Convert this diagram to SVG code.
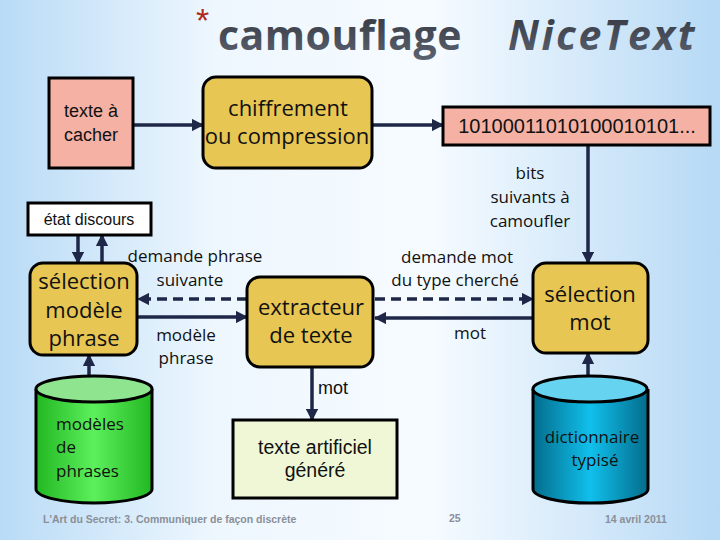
<svg xmlns="http://www.w3.org/2000/svg" width="720" height="540" viewBox="0 0 720 540">
<defs>
<linearGradient id="bg" x1="0" y1="0" x2="1" y2="0">
<stop offset="0" stop-color="#b9dbf6"/>
<stop offset="0.3" stop-color="#eef7fe"/>
<stop offset="0.6" stop-color="#f6fbff"/>
<stop offset="1" stop-color="#b6d9f5"/>
</linearGradient>
<linearGradient id="title" x1="0" y1="0" x2="0" y2="1">
<stop offset="0" stop-color="#2f333b"/>
<stop offset="1" stop-color="#5d6472"/>
</linearGradient>
<linearGradient id="green" x1="0" y1="0" x2="1" y2="0">
<stop offset="0" stop-color="#22b822"/>
<stop offset="0.5" stop-color="#5cf05c"/>
<stop offset="1" stop-color="#22b822"/>
</linearGradient>
<linearGradient id="blue" x1="0" y1="0" x2="1" y2="0">
<stop offset="0" stop-color="#046c8c"/>
<stop offset="0.5" stop-color="#10c0ec"/>
<stop offset="1" stop-color="#046c8c"/>
</linearGradient>
<marker id="ah" viewBox="0 0 10 10" refX="9" refY="5" markerWidth="3.5" markerHeight="3.5" orient="auto" markerUnits="strokeWidth">
<path d="M0,0 L10,5 L0,10 z" fill="#1e2747"/>
</marker>
<style>
.ln{stroke:#1e2747;stroke-width:3.5;fill:none;marker-end:url(#ah)}
.ds{stroke-dasharray:10,6}
.bx{stroke:#000;stroke-width:3}
.gold{fill:#e7c653}
.pink{fill:#f4b1a4}
.t{font-family:"Open Sans","DejaVu Sans",sans-serif;fill:#111}
.a{font-family:"Liberation Sans",Arial,sans-serif;fill:#111}
.big{font-size:22px}
.med{font-size:17px}
.foot{font-family:"Liberation Sans",Arial,sans-serif;font-size:10.5px;fill:#8a8f98;font-weight:bold}
</style>
</defs>
<rect width="720" height="540" fill="url(#bg)"/>
<g id="title">
<text x="196" y="32" font-family="Liberation Sans,sans-serif" font-size="34" fill="#b0281c">*</text>
<text x="218" y="50" font-family="Open Sans,sans-serif" font-weight="bold" font-size="41" fill="url(#title)" letter-spacing="0.5">camouflage</text>
<text x="508" y="50" font-family="Open Sans,sans-serif" font-weight="bold" font-style="italic" font-size="41" fill="url(#title)" letter-spacing="2.5">NiceText</text>
</g>
<g id="connectors">
<line class="ln" x1="133" y1="125" x2="203" y2="125"/>
<line class="ln" x1="372" y1="125" x2="443" y2="125"/>
<line class="ln" x1="588" y1="145" x2="588" y2="263"/>
<line class="ln" x1="78" y1="235" x2="78" y2="263"/>
<line class="ln" x1="102" y1="263" x2="102" y2="235"/>
<line class="ln ds" x1="247" y1="299" x2="138" y2="299"/>
<line class="ln" x1="127" y1="317" x2="247" y2="317"/>
<line class="ln ds" x1="375" y1="299" x2="533" y2="299"/>
<line class="ln" x1="533" y1="318" x2="375" y2="318"/>
<line class="ln" x1="89" y1="390" x2="89" y2="355"/>
<line class="ln" x1="588" y1="390" x2="588" y2="353"/>
<line class="ln" x1="312" y1="367" x2="312" y2="420"/>
</g>
<g id="labels">
<text class="t" font-size="17" text-anchor="middle" x="530" y="179">bits</text>
<text class="t" font-size="17" text-anchor="middle" x="530" y="203">suivants à</text>
<text class="t" font-size="17" text-anchor="middle" x="530" y="227">camoufler</text>
<text class="t" font-size="17" text-anchor="middle" x="195" y="262">demande phrase</text>
<text class="t" font-size="17" text-anchor="middle" x="190" y="286">suivante</text>
<text class="t" font-size="17" text-anchor="middle" x="186" y="341">modèle</text>
<text class="t" font-size="17" text-anchor="middle" x="186" y="364">phrase</text>
<text class="t" font-size="17" text-anchor="middle" x="457" y="263">demande mot</text>
<text class="t" font-size="17" text-anchor="middle" x="455" y="286">du type cherché</text>
<text class="t" font-size="17" text-anchor="middle" x="470" y="339">mot</text>
<text class="a" font-size="18" x="318" y="394">mot</text>
</g>
<g id="texte-a-cacher">
<rect class="bx pink" x="49" y="78" width="84" height="90"/>
<text class="a" font-size="18" text-anchor="middle" x="91" y="117">texte à</text>
<text class="a" font-size="18" text-anchor="middle" x="91" y="141">cacher</text>
</g>
<g id="chiffrement">
<rect class="bx gold" x="203" y="77" width="169" height="91" rx="13"/>
<text class="t big" text-anchor="middle" x="288" y="116">chiffrement</text>
<text class="t big" text-anchor="middle" x="287" y="144">ou compression</text>
</g>
<g id="bits">
<rect class="bx pink" x="443" y="107" width="267" height="38"/>
<text class="a" font-size="20" text-anchor="middle" x="577" y="133">10100011010100010101...</text>
</g>
<g id="etat-discours">
<rect class="bx" fill="#fff" x="28" y="203" width="123" height="32"/>
<text class="a" font-size="16" text-anchor="middle" x="89" y="225">état discours</text>
</g>
<g id="selection-modele">
<rect class="bx gold" x="30" y="263" width="107" height="92" rx="13"/>
<text class="t big" text-anchor="middle" x="84" y="289">sélection</text>
<text class="t big" text-anchor="middle" x="84" y="318">modèle</text>
<text class="t big" text-anchor="middle" x="84" y="346">phrase</text>
</g>
<g id="extracteur">
<rect class="bx gold" x="247" y="277" width="126" height="90" rx="13"/>
<text class="t big" text-anchor="middle" x="311" y="315">extracteur</text>
<text class="t big" text-anchor="middle" x="311" y="343">de texte</text>
</g>
<g id="selection-mot">
<rect class="bx gold" x="533" y="263" width="115" height="90" rx="13"/>
<text class="t big" text-anchor="middle" x="590" y="302">sélection</text>
<text class="t big" text-anchor="middle" x="590" y="330">mot</text>
</g>
<g id="modeles-phrases">
<path class="bx" fill="url(#green)" d="M36,389 L36,489 A58,14 0 0 0 152,489 L152,389"/>
<ellipse class="bx" cx="94" cy="389" rx="58" ry="13" fill="#8fe48f"/>
<text class="t med" x="56" y="430" fill="#222">modèles</text>
<text class="t med" x="56" y="453" fill="#222">de</text>
<text class="t med" x="56" y="477" fill="#222">phrases</text>
</g>
<g id="dictionnaire">
<path class="bx" fill="url(#blue)" d="M533,389 L533,489 A57,14 0 0 0 648,489 L648,389"/>
<ellipse class="bx" cx="590" cy="389" rx="57" ry="13" fill="#66d4f0"/>
<text class="t" font-size="17" text-anchor="middle" x="592" y="443" fill="#e8f6fb">dictionnaire</text>
<text class="t" font-size="17" text-anchor="middle" x="595" y="466" fill="#e8f6fb">typisé</text>
</g>
<g id="texte-artificiel">
<rect class="bx" fill="#eff7d6" x="233" y="420" width="164" height="78"/>
<text class="a" font-size="19.5" text-anchor="middle" x="315" y="454">texte artificiel</text>
<text class="a" font-size="19.5" text-anchor="middle" x="315" y="477">généré</text>
</g>
<g id="footer">
<text class="foot" x="43" y="523">L'Art du Secret:  3. Communiquer de façon discrète</text>
<text class="foot" x="449" y="522">25</text>
<text class="foot" x="605" y="523">14 avril 2011</text>
</g>
</svg>
